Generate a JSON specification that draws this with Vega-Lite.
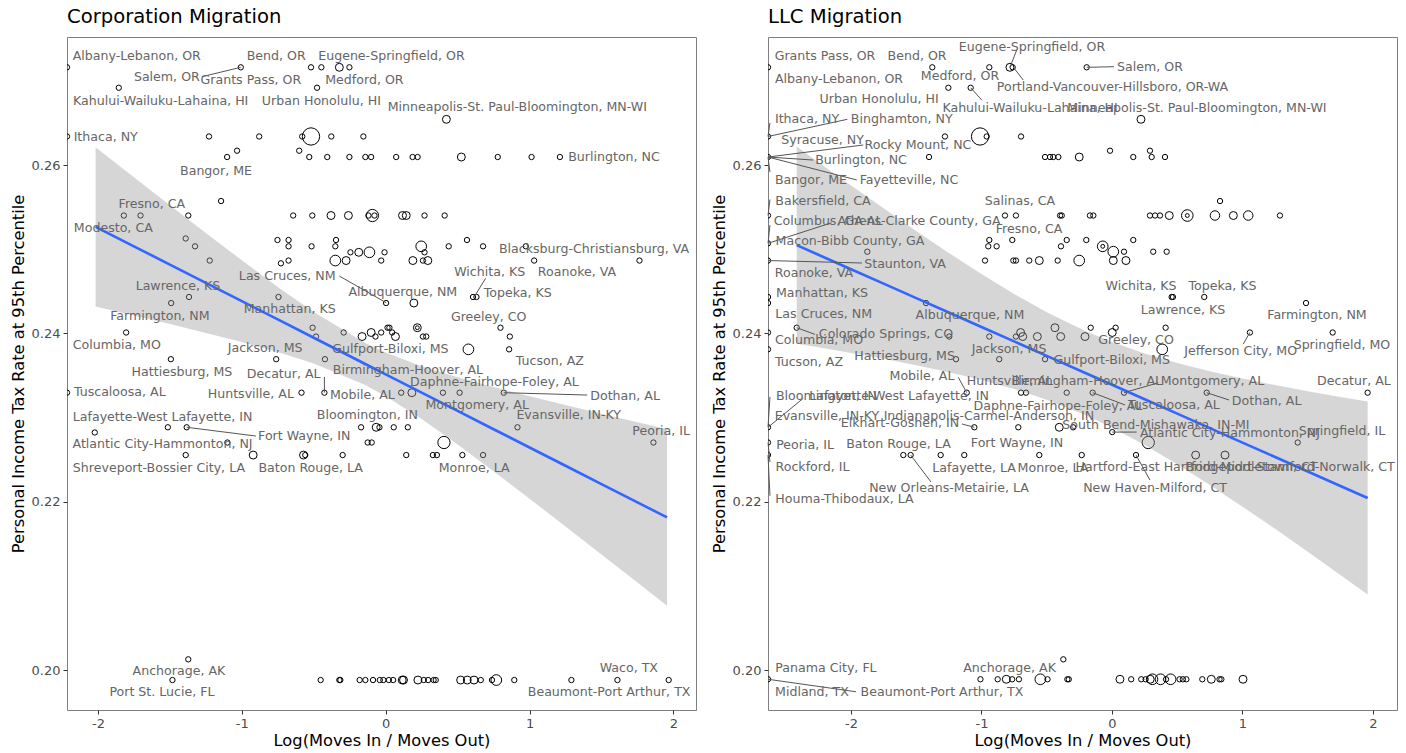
{
"$schema": "https://vega.github.io/schema/vega-lite/v6.json",
"padding": {"left": 9, "top": 6, "right": 0, "bottom": 0},
"spacing": 13,
"background": "white",
"config": {
 "font": "DejaVu Sans",
 "view": {"stroke": "#7f7f7f", "strokeWidth": 1},
 "axis": {"domain": false, "grid": false, "tickColor": "#333333", "tickSize": 4, "tickWidth": 1, "labelColor": "#4d4d4d", "labelFontSize": 13, "labelPadding": 3, "titleFontSize": 16.3, "titleFontWeight": "normal", "titleColor": "#000000", "titlePadding": 5},
 "axisX": {"titlePadding": 2},
 "title": {"fontSize": 19.6, "fontWeight": "normal", "anchor": "start", "frame": "group", "color": "#000000", "offset": 9}
},
"datasets": {
 "corp_band": [
  {"x":-2.016,"lo":0.24320,"hi":0.26210,"fit":0.25265},
  {"x":-1.75,"lo":0.24213,"hi":0.25855,"fit":0.25034},
  {"x":-1.5,"lo":0.24111,"hi":0.25523,"fit":0.24817},
  {"x":-1.25,"lo":0.24005,"hi":0.25193,"fit":0.24599},
  {"x":-1.0,"lo":0.23896,"hi":0.24868,"fit":0.24382},
  {"x":-0.75,"lo":0.23778,"hi":0.24552,"fit":0.24165},
  {"x":-0.5,"lo":0.23643,"hi":0.24253,"fit":0.23948},
  {"x":-0.142,"lo":0.23386,"hi":0.23886,"fit":0.23636},
  {"x":0.0,"lo":0.23254,"hi":0.23772,"fit":0.23513},
  {"x":0.25,"lo":0.22982,"hi":0.23610,"fit":0.23296},
  {"x":0.5,"lo":0.22678,"hi":0.23478,"fit":0.23078},
  {"x":0.75,"lo":0.22361,"hi":0.23362,"fit":0.22861},
  {"x":1.0,"lo":0.22035,"hi":0.23253,"fit":0.22644},
  {"x":1.25,"lo":0.21706,"hi":0.23148,"fit":0.22427},
  {"x":1.5,"lo":0.21373,"hi":0.23045,"fit":0.22209},
  {"x":1.75,"lo":0.21039,"hi":0.22945,"fit":0.21992},
  {"x":1.956,"lo":0.20763,"hi":0.22863,"fit":0.21813}
 ],
 "llc_band": [
  {"x":-2.416,"lo":0.23877,"hi":0.26219,"fit":0.25048},
  {"x":-2.25,"lo":0.23834,"hi":0.26034,"fit":0.24934},
  {"x":-2.0,"lo":0.23767,"hi":0.25757,"fit":0.24762},
  {"x":-1.75,"lo":0.23697,"hi":0.25485,"fit":0.24591},
  {"x":-1.5,"lo":0.23622,"hi":0.25216,"fit":0.24419},
  {"x":-1.25,"lo":0.23539,"hi":0.24955,"fit":0.24247},
  {"x":-1.0,"lo":0.23447,"hi":0.24705,"fit":0.24076},
  {"x":-0.75,"lo":0.23339,"hi":0.24469,"fit":0.23904},
  {"x":-0.5,"lo":0.23212,"hi":0.24252,"fit":0.23732},
  {"x":-0.2,"lo":0.23026,"hi":0.24026,"fit":0.23526},
  {"x":0.0,"lo":0.22880,"hi":0.23898,"fit":0.23389},
  {"x":0.25,"lo":0.22673,"hi":0.23761,"fit":0.23217},
  {"x":0.5,"lo":0.22444,"hi":0.23648,"fit":0.23046},
  {"x":0.75,"lo":0.22199,"hi":0.23549,"fit":0.22874},
  {"x":1.0,"lo":0.21941,"hi":0.23463,"fit":0.22702},
  {"x":1.25,"lo":0.21677,"hi":0.23385,"fit":0.22531},
  {"x":1.5,"lo":0.21405,"hi":0.23313,"fit":0.22359},
  {"x":1.75,"lo":0.21130,"hi":0.23244,"fit":0.22187},
  {"x":1.959,"lo":0.20898,"hi":0.23190,"fit":0.22044}
 ],
 "corp_pts": [
  {"x":-2.215,"y":0.27161,"n":9.5},{"x":-1.007,"y":0.27161,"n":9.5},{"x":-0.519,"y":0.27161,"n":9.5},{"x":-0.447,"y":0.27161,"n":9.5},{"x":-0.322,"y":0.27161,"n":21},{"x":-0.252,"y":0.27161,"n":9.5},
  {"x":-1.855,"y":0.26918,"n":9.5},{"x":-0.477,"y":0.26918,"n":9.5},
  {"x":0.422,"y":0.26543,"n":21},
  {"x":-2.215,"y":0.26339,"n":9.5},{"x":-1.228,"y":0.26339,"n":9.5},{"x":-0.879,"y":0.26339,"n":9.5},{"x":-0.580,"y":0.26339,"n":9.5},{"x":-0.519,"y":0.26339,"n":100},{"x":-0.378,"y":0.26339,"n":9.5},{"x":-0.155,"y":0.26339,"n":9.5},
  {"x":-1.033,"y":0.26170,"n":9.5},{"x":-0.601,"y":0.26170,"n":9.5},
  {"x":-1.102,"y":0.26095,"n":9.5},{"x":-0.531,"y":0.26095,"n":9.5},{"x":-0.406,"y":0.26095,"n":9.5},{"x":-0.252,"y":0.26095,"n":9.5},{"x":-0.141,"y":0.26095,"n":9.5},{"x":-0.101,"y":0.26095,"n":9.5},{"x":0.073,"y":0.26095,"n":9.5},{"x":0.187,"y":0.26095,"n":9.5},{"x":0.222,"y":0.26095,"n":9.5},{"x":0.526,"y":0.26095,"n":21},{"x":0.779,"y":0.26095,"n":9.5},{"x":1.014,"y":0.26095,"n":9.5},{"x":1.211,"y":0.26095,"n":9.5},
  {"x":-1.144,"y":0.25572,"n":9.5},
  {"x":-1.820,"y":0.25400,"n":9.5},{"x":-1.704,"y":0.25400,"n":9.5},{"x":-1.372,"y":0.25400,"n":9.5},{"x":-0.643,"y":0.25400,"n":9.5},{"x":-0.510,"y":0.25400,"n":9.5},{"x":-0.380,"y":0.25400,"n":21},{"x":-0.259,"y":0.25400,"n":21},{"x":-0.092,"y":0.25400,"n":50},{"x":-0.120,"y":0.25400,"n":9.5},{"x":-0.078,"y":0.25400,"n":9.5},{"x":0.117,"y":0.25400,"n":21},{"x":0.143,"y":0.25400,"n":21},{"x":0.270,"y":0.25400,"n":9.5},{"x":0.410,"y":0.25400,"n":9.5},
  {"x":-1.390,"y":0.25127,"n":9.5},
  {"x":-0.752,"y":0.25109,"n":9.5},{"x":-0.675,"y":0.25109,"n":9.5},{"x":-0.345,"y":0.25109,"n":9.5},{"x":0.565,"y":0.25109,"n":9.5},
  {"x":-1.325,"y":0.25034,"n":9.5},{"x":-0.675,"y":0.25034,"n":9.5},{"x":-0.515,"y":0.25034,"n":9.5},{"x":-0.350,"y":0.25034,"n":9.5},{"x":0.247,"y":0.25034,"n":38},{"x":0.438,"y":0.25034,"n":9.5},{"x":0.677,"y":0.25034,"n":9.5},{"x":0.974,"y":0.25034,"n":9.5},
  {"x":-0.245,"y":0.24963,"n":9.5},{"x":-0.187,"y":0.24963,"n":21},{"x":-0.113,"y":0.24963,"n":38},{"x":-0.008,"y":0.24963,"n":9.5},{"x":0.270,"y":0.24963,"n":9.5},
  {"x":-1.223,"y":0.24865,"n":9.5},{"x":-0.675,"y":0.24865,"n":9.5},{"x":-0.350,"y":0.24865,"n":38},{"x":-0.275,"y":0.24865,"n":21},{"x":-0.031,"y":0.24865,"n":9.5},{"x":0.189,"y":0.24865,"n":21},{"x":0.259,"y":0.24865,"n":9.5},{"x":0.293,"y":0.24865,"n":21},{"x":1.032,"y":0.24865,"n":9.5},{"x":1.764,"y":0.24865,"n":9.5},
  {"x":-0.728,"y":0.24832,"n":9.5},
  {"x":-1.367,"y":0.24432,"n":9.5},{"x":-0.745,"y":0.24432,"n":9.5},{"x":0.607,"y":0.24432,"n":9.5},{"x":0.631,"y":0.24432,"n":9.5},
  {"x":-1.491,"y":0.24360,"n":9.5},{"x":0.003,"y":0.24360,"n":9.5},{"x":0.196,"y":0.24360,"n":21},
  {"x":-0.508,"y":0.24067,"n":9.5},{"x":0.013,"y":0.24067,"n":9.5},{"x":0.026,"y":0.24067,"n":9.5},{"x":0.220,"y":0.24067,"n":21},{"x":0.220,"y":0.24067,"n":5},{"x":0.798,"y":0.24067,"n":9.5},
  {"x":-1.804,"y":0.24010,"n":9.5},{"x":-0.292,"y":0.24010,"n":9.5},{"x":-0.101,"y":0.24010,"n":21},{"x":-0.031,"y":0.24010,"n":9.5},{"x":0.045,"y":0.24010,"n":9.5},
  {"x":-0.484,"y":0.23962,"n":9.5},{"x":-0.164,"y":0.23962,"n":21},{"x":-0.071,"y":0.23962,"n":9.5},{"x":0.068,"y":0.23962,"n":21},{"x":0.259,"y":0.23962,"n":9.5},{"x":0.282,"y":0.23962,"n":9.5},{"x":0.863,"y":0.23962,"n":9.5},
  {"x":0.575,"y":0.23810,"n":38},{"x":0.858,"y":0.23810,"n":9.5},
  {"x":-1.493,"y":0.23693,"n":9.5},{"x":-0.761,"y":0.23693,"n":9.5},{"x":-0.422,"y":0.23693,"n":9.5},
  {"x":-2.215,"y":0.23295,"n":9.5},{"x":-0.585,"y":0.23295,"n":9.5},{"x":-0.426,"y":0.23295,"n":9.5},{"x":0.108,"y":0.23295,"n":9.5},{"x":0.182,"y":0.23295,"n":21},{"x":0.398,"y":0.23295,"n":9.5},{"x":0.514,"y":0.23295,"n":9.5},{"x":0.821,"y":0.23295,"n":9.5},
  {"x":-1.514,"y":0.22884,"n":9.5},{"x":-1.383,"y":0.22884,"n":9.5},{"x":-0.171,"y":0.22884,"n":9.5},{"x":-0.066,"y":0.22884,"n":21},{"x":-0.043,"y":0.22884,"n":9.5},{"x":0.056,"y":0.22884,"n":9.5},{"x":0.154,"y":0.22884,"n":9.5},{"x":0.916,"y":0.22884,"n":9.5},
  {"x":-2.022,"y":0.22822,"n":9.5},
  {"x":-1.100,"y":0.22703,"n":9.5},{"x":-0.125,"y":0.22703,"n":9.5},{"x":-0.097,"y":0.22703,"n":9.5},{"x":0.405,"y":0.22703,"n":50},{"x":1.861,"y":0.22703,"n":9.5},
  {"x":-1.390,"y":0.22554,"n":9.5},{"x":-0.921,"y":0.22554,"n":21},{"x":-0.571,"y":0.22554,"n":21},{"x":-0.559,"y":0.22554,"n":9.5},{"x":-0.299,"y":0.22554,"n":9.5},{"x":0.143,"y":0.22554,"n":9.5},{"x":0.328,"y":0.22554,"n":9.5},{"x":0.356,"y":0.22554,"n":9.5},{"x":0.533,"y":0.22554,"n":9.5},{"x":0.677,"y":0.22554,"n":9.5},
  {"x":-1.372,"y":0.20127,"n":9.5},
  {"x":-1.482,"y":0.19881,"n":9.5},{"x":-0.452,"y":0.19881,"n":9.5},{"x":-0.322,"y":0.19881,"n":9.5},{"x":-0.315,"y":0.19881,"n":9.5},{"x":-0.181,"y":0.19881,"n":9.5},{"x":-0.141,"y":0.19881,"n":9.5},{"x":-0.088,"y":0.19881,"n":9.5},{"x":-0.041,"y":0.19881,"n":9.5},{"x":-0.016,"y":0.19881,"n":9.5},{"x":0.022,"y":0.19881,"n":9.5},{"x":0.052,"y":0.19881,"n":9.5},{"x":0.115,"y":0.19881,"n":21},{"x":0.124,"y":0.19881,"n":21},{"x":0.224,"y":0.19881,"n":21},{"x":0.265,"y":0.19881,"n":9.5},{"x":0.295,"y":0.19881,"n":9.5},{"x":0.333,"y":0.19881,"n":9.5},{"x":0.348,"y":0.19881,"n":9.5},{"x":0.521,"y":0.19881,"n":21},{"x":0.567,"y":0.19881,"n":21},{"x":0.614,"y":0.19881,"n":21},{"x":0.661,"y":0.19881,"n":9.5},{"x":0.739,"y":0.19881,"n":9.5},{"x":0.769,"y":0.19881,"n":38},{"x":0.894,"y":0.19881,"n":9.5},{"x":1.291,"y":0.19881,"n":9.5},{"x":1.611,"y":0.19881,"n":9.5},{"x":1.967,"y":0.19881,"n":9.5}
 ],
 "llc_pts": [
  {"x":-2.636,"y":0.27161,"n":9.5},{"x":-1.377,"y":0.27161,"n":9.5},{"x":-0.940,"y":0.27161,"n":9.5},{"x":-0.782,"y":0.27161,"n":21},{"x":-0.761,"y":0.27161,"n":9.5},{"x":-0.194,"y":0.27161,"n":9.5},
  {"x":-1.254,"y":0.26918,"n":9.5},{"x":-1.083,"y":0.26918,"n":9.5},
  {"x":0.222,"y":0.26543,"n":21},
  {"x":-2.636,"y":0.26339,"n":9.5},{"x":-1.280,"y":0.26339,"n":9.5},{"x":-1.011,"y":0.26339,"n":100},{"x":-0.960,"y":0.26339,"n":9.5},{"x":-0.697,"y":0.26339,"n":9.5},
  {"x":-0.015,"y":0.26170,"n":9.5},{"x":0.291,"y":0.26170,"n":9.5},
  {"x":-2.636,"y":0.26095,"n":9.5},{"x":-1.402,"y":0.26095,"n":9.5},{"x":-0.513,"y":0.26095,"n":9.5},{"x":-0.475,"y":0.26095,"n":9.5},{"x":-0.450,"y":0.26095,"n":9.5},{"x":-0.411,"y":0.26095,"n":9.5},{"x":-0.251,"y":0.26095,"n":21},{"x":0.163,"y":0.26095,"n":9.5},{"x":0.304,"y":0.26095,"n":9.5},{"x":0.406,"y":0.26095,"n":9.5},
  {"x":0.828,"y":0.25572,"n":9.5},
  {"x":-2.636,"y":0.25400,"n":9.5},{"x":-0.820,"y":0.25400,"n":9.5},{"x":-0.736,"y":0.25400,"n":9.5},{"x":-0.398,"y":0.25400,"n":9.5},{"x":-0.385,"y":0.25400,"n":9.5},{"x":-0.169,"y":0.25400,"n":9.5},{"x":-0.143,"y":0.25400,"n":9.5},{"x":0.291,"y":0.25400,"n":9.5},{"x":0.330,"y":0.25400,"n":9.5},{"x":0.368,"y":0.25400,"n":9.5},{"x":0.439,"y":0.25400,"n":21},{"x":0.577,"y":0.25400,"n":45},{"x":0.577,"y":0.25400,"n":5},{"x":0.789,"y":0.25400,"n":30},{"x":0.930,"y":0.25400,"n":21},{"x":1.044,"y":0.25400,"n":30},{"x":1.287,"y":0.25400,"n":9.5},
  {"x":-2.636,"y":0.25070,"n":9.5},
  {"x":-0.940,"y":0.25109,"n":9.5},{"x":-0.764,"y":0.25109,"n":9.5},{"x":-0.347,"y":0.25109,"n":9.5},{"x":-0.197,"y":0.25109,"n":9.5},{"x":0.163,"y":0.25109,"n":9.5},
  {"x":-0.948,"y":0.25034,"n":9.5},{"x":-0.884,"y":0.25034,"n":9.5},{"x":-0.391,"y":0.25034,"n":9.5},{"x":-0.071,"y":0.25034,"n":38},{"x":-0.071,"y":0.25034,"n":5},
  {"x":-1.875,"y":0.24970,"n":9.5},{"x":0.010,"y":0.24970,"n":38},{"x":0.092,"y":0.24970,"n":9.5},{"x":0.316,"y":0.24970,"n":9.5},{"x":0.419,"y":0.24970,"n":9.5},
  {"x":-2.636,"y":0.24865,"n":9.5},{"x":-0.973,"y":0.24865,"n":9.5},{"x":-0.756,"y":0.24865,"n":9.5},{"x":-0.736,"y":0.24865,"n":9.5},{"x":-0.634,"y":0.24865,"n":9.5},{"x":-0.557,"y":0.24865,"n":21},{"x":-0.416,"y":0.24865,"n":9.5},{"x":-0.251,"y":0.24865,"n":38},{"x":0.010,"y":0.24865,"n":21},{"x":0.107,"y":0.24865,"n":21},
  {"x":-2.636,"y":0.24432,"n":9.5},{"x":0.457,"y":0.24432,"n":9.5},{"x":0.467,"y":0.24432,"n":9.5},{"x":0.707,"y":0.24432,"n":9.5},
  {"x":-2.636,"y":0.24360,"n":9.5},{"x":-1.425,"y":0.24360,"n":9.5},{"x":1.487,"y":0.24360,"n":9.5},
  {"x":-2.416,"y":0.24067,"n":9.5},{"x":-0.437,"y":0.24067,"n":21},{"x":-0.163,"y":0.24067,"n":9.5},{"x":0.028,"y":0.24067,"n":9.5},{"x":0.411,"y":0.24067,"n":9.5},
  {"x":-2.636,"y":0.24010,"n":9.5},{"x":-0.700,"y":0.24010,"n":21},{"x":0.002,"y":0.24010,"n":21},{"x":1.057,"y":0.24010,"n":9.5},{"x":1.691,"y":0.24010,"n":9.5},
  {"x":-1.247,"y":0.23962,"n":9.5},{"x":-0.940,"y":0.23962,"n":9.5},{"x":-0.736,"y":0.23962,"n":9.5},{"x":-0.684,"y":0.23962,"n":21},{"x":-0.572,"y":0.23962,"n":21},{"x":-0.393,"y":0.23962,"n":21},{"x":-0.207,"y":0.23962,"n":21},
  {"x":-2.636,"y":0.23810,"n":9.5},{"x":0.385,"y":0.23810,"n":38},
  {"x":-1.195,"y":0.23693,"n":9.5},{"x":-0.864,"y":0.23693,"n":9.5},{"x":-0.513,"y":0.23693,"n":9.5},
  {"x":-1.113,"y":0.23295,"n":9.5},{"x":-0.697,"y":0.23295,"n":9.5},{"x":-0.659,"y":0.23295,"n":9.5},{"x":-0.347,"y":0.23295,"n":9.5},{"x":-0.148,"y":0.23295,"n":9.5},{"x":0.092,"y":0.23295,"n":9.5},{"x":0.726,"y":0.23295,"n":9.5},{"x":1.959,"y":0.23295,"n":9.5},
  {"x":-2.636,"y":0.22884,"n":9.5},{"x":-1.055,"y":0.22884,"n":9.5},{"x":-0.718,"y":0.22884,"n":9.5},{"x":-0.404,"y":0.22884,"n":21},{"x":-0.297,"y":0.22884,"n":9.5},
  {"x":0.002,"y":0.22827,"n":9.5},
  {"x":-2.636,"y":0.22703,"n":9.5},{"x":0.278,"y":0.22703,"n":50},{"x":1.423,"y":0.22703,"n":9.5},
  {"x":-2.636,"y":0.22554,"n":9.5},{"x":-1.599,"y":0.22554,"n":9.5},{"x":-1.543,"y":0.22554,"n":9.5},{"x":-1.313,"y":0.22554,"n":9.5},{"x":-1.132,"y":0.22554,"n":9.5},{"x":-0.557,"y":0.22554,"n":9.5},{"x":-0.232,"y":0.22554,"n":9.5},{"x":0.184,"y":0.22554,"n":9.5},{"x":0.641,"y":0.22554,"n":21},{"x":0.866,"y":0.22554,"n":21},
  {"x":-0.373,"y":0.20127,"n":9.5},
  {"x":-2.636,"y":0.19890,"n":9.5},{"x":-1.008,"y":0.19890,"n":9.5},{"x":-0.876,"y":0.19890,"n":9.5},{"x":-0.810,"y":0.19890,"n":21},{"x":-0.765,"y":0.19890,"n":9.5},{"x":-0.713,"y":0.19890,"n":9.5},{"x":-0.549,"y":0.19890,"n":38},{"x":-0.494,"y":0.19890,"n":9.5},{"x":-0.342,"y":0.19890,"n":9.5},{"x":-0.331,"y":0.19890,"n":9.5},{"x":0.061,"y":0.19890,"n":21},{"x":0.147,"y":0.19890,"n":9.5},{"x":0.224,"y":0.19890,"n":9.5},{"x":0.258,"y":0.19890,"n":9.5},{"x":0.293,"y":0.19890,"n":21},{"x":0.310,"y":0.19890,"n":38},{"x":0.372,"y":0.19890,"n":38},{"x":0.414,"y":0.19890,"n":9.5},{"x":0.449,"y":0.19890,"n":38},{"x":0.518,"y":0.19890,"n":9.5},{"x":0.543,"y":0.19890,"n":9.5},{"x":0.570,"y":0.19890,"n":9.5},{"x":0.692,"y":0.19890,"n":9.5},{"x":0.761,"y":0.19890,"n":21},{"x":0.824,"y":0.19890,"n":9.5},{"x":0.838,"y":0.19890,"n":9.5},{"x":1.004,"y":0.19890,"n":21}
 ],
 "corp_segs": [
  {"x":-1.007,"y":0.27161,"x2":-1.277,"y2":0.27049},
  {"x":0.003,"y":0.24364,"x2":-0.322,"y2":0.24681},
  {"x":0.619,"y":0.24444,"x2":0.695,"y2":0.24654},
  {"x":-0.426,"y":0.23295,"x2":-0.426,"y2":0.23482},
  {"x":0.821,"y":0.23295,"x2":1.401,"y2":0.23267},
  {"x":-1.383,"y":0.22884,"x2":-0.902,"y2":0.22780}
 ],
 "llc_segs": [
  {"x":-0.782,"y":0.27161,"x2":-0.730,"y2":0.27366},
  {"x":-0.194,"y":0.27161,"x2":0.015,"y2":0.27168},
  {"x":-0.756,"y":0.27161,"x2":-0.680,"y2":0.27010},
  {"x":-1.083,"y":0.26918,"x2":-0.998,"y2":0.26772},
  {"x":-2.636,"y":0.26339,"x2":-2.621,"y2":0.26500},
  {"x":-2.636,"y":0.26339,"x2":-2.028,"y2":0.26543},
  {"x":-2.636,"y":0.26095,"x2":-1.906,"y2":0.26238},
  {"x":-2.636,"y":0.26095,"x2":-2.289,"y2":0.26059},
  {"x":-2.636,"y":0.26095,"x2":-1.956,"y2":0.25822},
  {"x":-2.636,"y":0.26095,"x2":-2.621,"y2":0.25916},
  {"x":-2.636,"y":0.25400,"x2":-2.621,"y2":0.25590},
  {"x":-2.636,"y":0.25070,"x2":-2.148,"y2":0.25314},
  {"x":-2.636,"y":0.25070,"x2":-2.621,"y2":0.25287},
  {"x":-2.636,"y":0.24865,"x2":-1.916,"y2":0.24836},
  {"x":-2.416,"y":0.24067,"x2":-2.276,"y2":0.23988},
  {"x":-1.113,"y":0.23295,"x2":-1.178,"y2":0.23478},
  {"x":1.057,"y":0.24012,"x2":1.006,"y2":0.23873},
  {"x":0.092,"y":0.23295,"x2":0.355,"y2":0.23413},
  {"x":-0.148,"y":0.23295,"x2":0.100,"y2":0.23149},
  {"x":0.726,"y":0.23295,"x2":0.897,"y2":0.23208},
  {"x":-2.636,"y":0.22884,"x2":-2.366,"y2":0.23228},
  {"x":-2.636,"y":0.22884,"x2":-2.621,"y2":0.23245},
  {"x":-1.055,"y":0.22884,"x2":-1.149,"y2":0.22923},
  {"x":0.002,"y":0.22827,"x2":0.189,"y2":0.22827},
  {"x":0.184,"y":0.22554,"x2":0.291,"y2":0.22257},
  {"x":-1.543,"y":0.22554,"x2":-1.387,"y2":0.22234},
  {"x":-2.636,"y":0.22703,"x2":-2.621,"y2":0.22470},
  {"x":-2.636,"y":0.22554,"x2":-2.621,"y2":0.22070},
  {"x":-2.636,"y":0.19890,"x2":-1.962,"y2":0.19742}
 ],
 "corp_lab": [
  {"t":"Albany-Lebanon, OR","x":-1.730,"y":0.27295},
  {"t":"Bend, OR","x":-0.761,"y":0.27295},
  {"t":"Eugene-Springfield, OR","x":0.040,"y":0.27295},
  {"t":"Salem, OR","x":-1.521,"y":0.27049},
  {"t":"Grants Pass, OR","x":-0.937,"y":0.27010},
  {"t":"Medford, OR","x":-0.148,"y":0.27010},
  {"t":"Kahului-Wailuku-Lahaina, HI","x":-1.564,"y":0.26764},
  {"t":"Urban Honolulu, HI","x":-0.447,"y":0.26764},
  {"t":"Minneapolis-St. Paul-Bloomington, MN-WI","x":0.915,"y":0.26686},
  {"t":"Ithaca, NY","x":-1.946,"y":0.26336},
  {"t":"Bangor, ME","x":-1.179,"y":0.25932},
  {"t":"Burlington, NC","x":1.587,"y":0.26091},
  {"t":"Fresno, CA","x":-1.625,"y":0.25537},
  {"t":"Modesto, CA","x":-1.893,"y":0.25248},
  {"t":"Blacksburg-Christiansburg, VA","x":1.448,"y":0.24998},
  {"t":"Roanoke, VA","x":1.330,"y":0.24725},
  {"t":"Las Cruces, NM","x":-0.684,"y":0.24681},
  {"t":"Albuquerque, NM","x":0.119,"y":0.24495},
  {"t":"Wichita, KS","x":0.723,"y":0.24732},
  {"t":"Topeka, KS","x":0.918,"y":0.24483},
  {"t":"Lawrence, KS","x":-1.444,"y":0.24566},
  {"t":"Manhattan, KS","x":-0.667,"y":0.24286},
  {"t":"Farmington, NM","x":-1.569,"y":0.24210},
  {"t":"Greeley, CO","x":0.716,"y":0.24198},
  {"t":"Columbia, MO","x":-1.869,"y":0.23861},
  {"t":"Jackson, MS","x":-0.838,"y":0.23829},
  {"t":"Gulfport-Biloxi, MS","x":0.033,"y":0.23810},
  {"t":"Tucson, AZ","x":1.141,"y":0.23671},
  {"t":"Hattiesburg, MS","x":-1.416,"y":0.23544},
  {"t":"Decatur, AL","x":-0.709,"y":0.23513},
  {"t":"Birmingham-Hoover, AL","x":0.155,"y":0.23564},
  {"t":"Daphne-Fairhope-Foley, AL","x":0.756,"y":0.23425},
  {"t":"Dothan, AL","x":1.664,"y":0.23259},
  {"t":"Montgomery, AL","x":0.636,"y":0.23149},
  {"t":"Tuscaloosa, AL","x":-1.848,"y":0.23299},
  {"t":"Huntsville, AL","x":-0.937,"y":0.23276},
  {"t":"Mobile, AL","x":-0.162,"y":0.23267},
  {"t":"Evansville, IN-KY","x":1.272,"y":0.23033},
  {"t":"Bloomington, IN","x":-0.127,"y":0.23033},
  {"t":"Lafayette-West Lafayette, IN","x":-1.551,"y":0.23009},
  {"t":"Fort Wayne, IN","x":-0.566,"y":0.22780},
  {"t":"Atlantic City-Hammonton, NJ","x":-1.551,"y":0.22682},
  {"t":"Peoria, IL","x":1.915,"y":0.22840},
  {"t":"Shreveport-Bossier City, LA","x":-1.576,"y":0.22396},
  {"t":"Baton Rouge, LA","x":-0.521,"y":0.22396},
  {"t":"Monroe, LA","x":0.615,"y":0.22396},
  {"t":"Anchorage, AK","x":-1.437,"y":0.19988},
  {"t":"Port St. Lucie, FL","x":-1.555,"y":0.19742},
  {"t":"Waco, TX","x":1.690,"y":0.20020},
  {"t":"Beaumont-Port Arthur, TX","x":1.553,"y":0.19742}
 ],
 "llc_lab": [
  {"t":"Grants Pass, OR","x":-2.199,"y":0.27299},
  {"t":"Bend, OR","x":-1.494,"y":0.27299},
  {"t":"Eugene-Springfield, OR","x":-0.613,"y":0.27406},
  {"t":"Albany-Lebanon, OR","x":-2.092,"y":0.27022},
  {"t":"Medford, OR","x":-1.165,"y":0.27057},
  {"t":"Salem, OR","x":0.291,"y":0.27168},
  {"t":"Portland-Vancouver-Hillsboro, OR-WA","x":0.004,"y":0.26923},
  {"t":"Urban Honolulu, HI","x":-1.785,"y":0.26781},
  {"t":"Kahului-Wailuku-Lahaina, HI","x":-0.628,"y":0.26674},
  {"t":"Minneapolis-St. Paul-Bloomington, MN-WI","x":0.651,"y":0.26681},
  {"t":"Ithaca, NY","x":-2.337,"y":0.26543},
  {"t":"Binghamton, NY","x":-1.611,"y":0.26543},
  {"t":"Syracuse, NY","x":-2.218,"y":0.26297},
  {"t":"Rocky Mount, NC","x":-1.487,"y":0.26238},
  {"t":"Burlington, NC","x":-1.923,"y":0.26059},
  {"t":"Bangor, ME","x":-2.307,"y":0.25822},
  {"t":"Fayetteville, NC","x":-1.556,"y":0.25822},
  {"t":"Bakersfield, CA","x":-2.215,"y":0.25572},
  {"t":"Salinas, CA","x":-0.705,"y":0.25572},
  {"t":"Columbus, GA-AL","x":-2.176,"y":0.25338},
  {"t":"Athens-Clarke County, GA","x":-1.479,"y":0.25338},
  {"t":"Fresno, CA","x":-0.636,"y":0.25240},
  {"t":"Macon-Bibb County, GA","x":-2.008,"y":0.25097},
  {"t":"Staunton, VA","x":-1.586,"y":0.24820},
  {"t":"Roanoke, VA","x":-2.284,"y":0.24720},
  {"t":"Wichita, KS","x":0.222,"y":0.24566},
  {"t":"Topeka, KS","x":0.847,"y":0.24566},
  {"t":"Manhattan, KS","x":-2.222,"y":0.24483},
  {"t":"Lawrence, KS","x":0.544,"y":0.24277},
  {"t":"Las Cruces, NM","x":-2.209,"y":0.24226},
  {"t":"Albuquerque, NM","x":-1.088,"y":0.24218},
  {"t":"Farmington, NM","x":1.571,"y":0.24218},
  {"t":"Colorado Springs, CO","x":-1.732,"y":0.23988},
  {"t":"Columbia, MO","x":-2.245,"y":0.23917},
  {"t":"Greeley, CO","x":0.184,"y":0.23921},
  {"t":"Springfield, MO","x":1.762,"y":0.23861},
  {"t":"Jackson, MS","x":-0.789,"y":0.23814},
  {"t":"Jefferson City, MO","x":0.986,"y":0.23790},
  {"t":"Hattiesburg, MS","x":-1.589,"y":0.23734},
  {"t":"Gulfport-Biloxi, MS","x":-0.002,"y":0.23683},
  {"t":"Tucson, AZ","x":-2.322,"y":0.23663},
  {"t":"Mobile, AL","x":-1.456,"y":0.23493},
  {"t":"Huntsville, AL","x":-0.782,"y":0.23437},
  {"t":"Birmingham-Hoover, AL","x":-0.192,"y":0.23437},
  {"t":"Montgomery, AL","x":0.770,"y":0.23434},
  {"t":"Decatur, AL","x":1.854,"y":0.23434},
  {"t":"Bloomington, IN","x":-2.188,"y":0.23259},
  {"t":"Lafayette-West Lafayette, IN","x":-1.632,"y":0.23259},
  {"t":"Dothan, AL","x":1.185,"y":0.23196},
  {"t":"Daphne-Fairhope-Foley, AL","x":-0.414,"y":0.23140},
  {"t":"Tuscaloosa, AL","x":0.475,"y":0.23149},
  {"t":"Evansville, IN-KY","x":-2.184,"y":0.23021},
  {"t":"Indianapolis-Carmel-Anderson, IN","x":-0.943,"y":0.23021},
  {"t":"Elkhart-Goshen, IN","x":-1.625,"y":0.22931},
  {"t":"South Bend-Mishawaka, IN-MI","x":0.337,"y":0.22911},
  {"t":"Springfield, IL","x":1.762,"y":0.22843},
  {"t":"Atlantic City-Hammonton, NJ","x":0.904,"y":0.22812},
  {"t":"Fort Wayne, IN","x":-0.728,"y":0.22693},
  {"t":"Baton Rouge, LA","x":-1.636,"y":0.22685},
  {"t":"Peoria, IL","x":-2.352,"y":0.22673},
  {"t":"Rockford, IL","x":-2.295,"y":0.22408},
  {"t":"Lafayette, LA","x":-1.057,"y":0.22396},
  {"t":"Monroe, LA","x":-0.452,"y":0.22396},
  {"t":"Hartford-East Hartford-Middletown, CT","x":0.648,"y":0.22408},
  {"t":"Bridgeport-Stamford-Norwalk, CT","x":1.364,"y":0.22408},
  {"t":"New Haven-Milford, CT","x":0.330,"y":0.22166},
  {"t":"New Orleans-Metairie, LA","x":-1.249,"y":0.22159},
  {"t":"Houma-Thibodaux, LA","x":-2.050,"y":0.22032},
  {"t":"Panama City, FL","x":-2.192,"y":0.20020},
  {"t":"Anchorage, AK","x":-0.785,"y":0.20027},
  {"t":"Midland, TX","x":-2.299,"y":0.19735},
  {"t":"Beaumont-Port Arthur, TX","x":-1.303,"y":0.19735}
 ]
},
"hconcat": [
 {
  "width": 629, "height": 673,
  "title": "Corporation Migration",
  "encoding": {
   "x": {"field": "x", "type": "quantitative", "scale": {"domain": [-2.215, 2.157], "nice": false, "zero": false}, "axis": {"values": [-2, -1, 0, 1, 2], "labelExpr": "replace(datum.label, '\u2212', '-')"}, "title": "Log(Moves In / Moves Out)"}
  },
  "layer": [
   {"data": {"name": "corp_pts"}, "mark": {"type": "point", "filled": false, "color": "#000000", "strokeWidth": 1, "opacity": 1, "clip": true},
    "encoding": {"y": {"field": "y", "type": "quantitative", "scale": {"domain": [0.19525, 0.27521], "nice": false, "zero": false}, "axis": {"values": [0.20, 0.22, 0.24, 0.26], "format": ".2f"}, "title": "Personal Income Tax Rate at 95th Percentile"},
     "size": {"field": "n", "type": "quantitative", "scale": {"domain": [0, 100], "range": [0, 300]}, "legend": null}}},
   {"data": {"name": "corp_band"}, "mark": {"type": "area", "color": "#999999", "opacity": 0.4},
    "encoding": {"y": {"field": "lo", "type": "quantitative", "title": "Personal Income Tax Rate at 95th Percentile"}, "y2": {"field": "hi"}}},
   {"data": {"name": "corp_band"}, "mark": {"type": "line", "color": "#3366FF", "strokeWidth": 2.6},
    "encoding": {"y": {"field": "fit", "type": "quantitative", "title": "Personal Income Tax Rate at 95th Percentile"}}},
   {"data": {"name": "corp_segs"}, "mark": {"type": "rule", "color": "#555555", "strokeWidth": 1},
    "encoding": {"y": {"field": "y", "type": "quantitative", "title": "Personal Income Tax Rate at 95th Percentile"}, "x2": {"field": "x2"}, "y2": {"field": "y2"}}},
   {"data": {"name": "corp_lab"}, "mark": {"type": "text", "fontSize": 12.6, "color": "#666666"},
    "encoding": {"y": {"field": "y", "type": "quantitative", "title": "Personal Income Tax Rate at 95th Percentile"}, "text": {"field": "t"}}}
  ]
 },
 {
  "width": 629, "height": 673,
  "title": "LLC Migration",
  "encoding": {
   "x": {"field": "x", "type": "quantitative", "scale": {"domain": [-2.636, 2.184], "nice": false, "zero": false}, "axis": {"values": [-2, -1, 0, 1, 2], "labelExpr": "replace(datum.label, '\u2212', '-')"}, "title": "Log(Moves In / Moves Out)"}
  },
  "layer": [
   {"data": {"name": "llc_pts"}, "mark": {"type": "point", "filled": false, "color": "#000000", "strokeWidth": 1, "opacity": 1, "clip": true},
    "encoding": {"y": {"field": "y", "type": "quantitative", "scale": {"domain": [0.19525, 0.27521], "nice": false, "zero": false}, "axis": {"values": [0.20, 0.22, 0.24, 0.26], "format": ".2f"}, "title": "Personal Income Tax Rate at 95th Percentile"},
     "size": {"field": "n", "type": "quantitative", "scale": {"domain": [0, 100], "range": [0, 300]}, "legend": null}}},
   {"data": {"name": "llc_band"}, "mark": {"type": "area", "color": "#999999", "opacity": 0.4},
    "encoding": {"y": {"field": "lo", "type": "quantitative", "title": "Personal Income Tax Rate at 95th Percentile"}, "y2": {"field": "hi"}}},
   {"data": {"name": "llc_band"}, "mark": {"type": "line", "color": "#3366FF", "strokeWidth": 2.6},
    "encoding": {"y": {"field": "fit", "type": "quantitative", "title": "Personal Income Tax Rate at 95th Percentile"}}},
   {"data": {"name": "llc_segs"}, "mark": {"type": "rule", "color": "#555555", "strokeWidth": 1},
    "encoding": {"y": {"field": "y", "type": "quantitative", "title": "Personal Income Tax Rate at 95th Percentile"}, "x2": {"field": "x2"}, "y2": {"field": "y2"}}},
   {"data": {"name": "llc_lab"}, "mark": {"type": "text", "fontSize": 12.6, "color": "#666666"},
    "encoding": {"y": {"field": "y", "type": "quantitative", "title": "Personal Income Tax Rate at 95th Percentile"}, "text": {"field": "t"}}}
  ]
 }
]
}
